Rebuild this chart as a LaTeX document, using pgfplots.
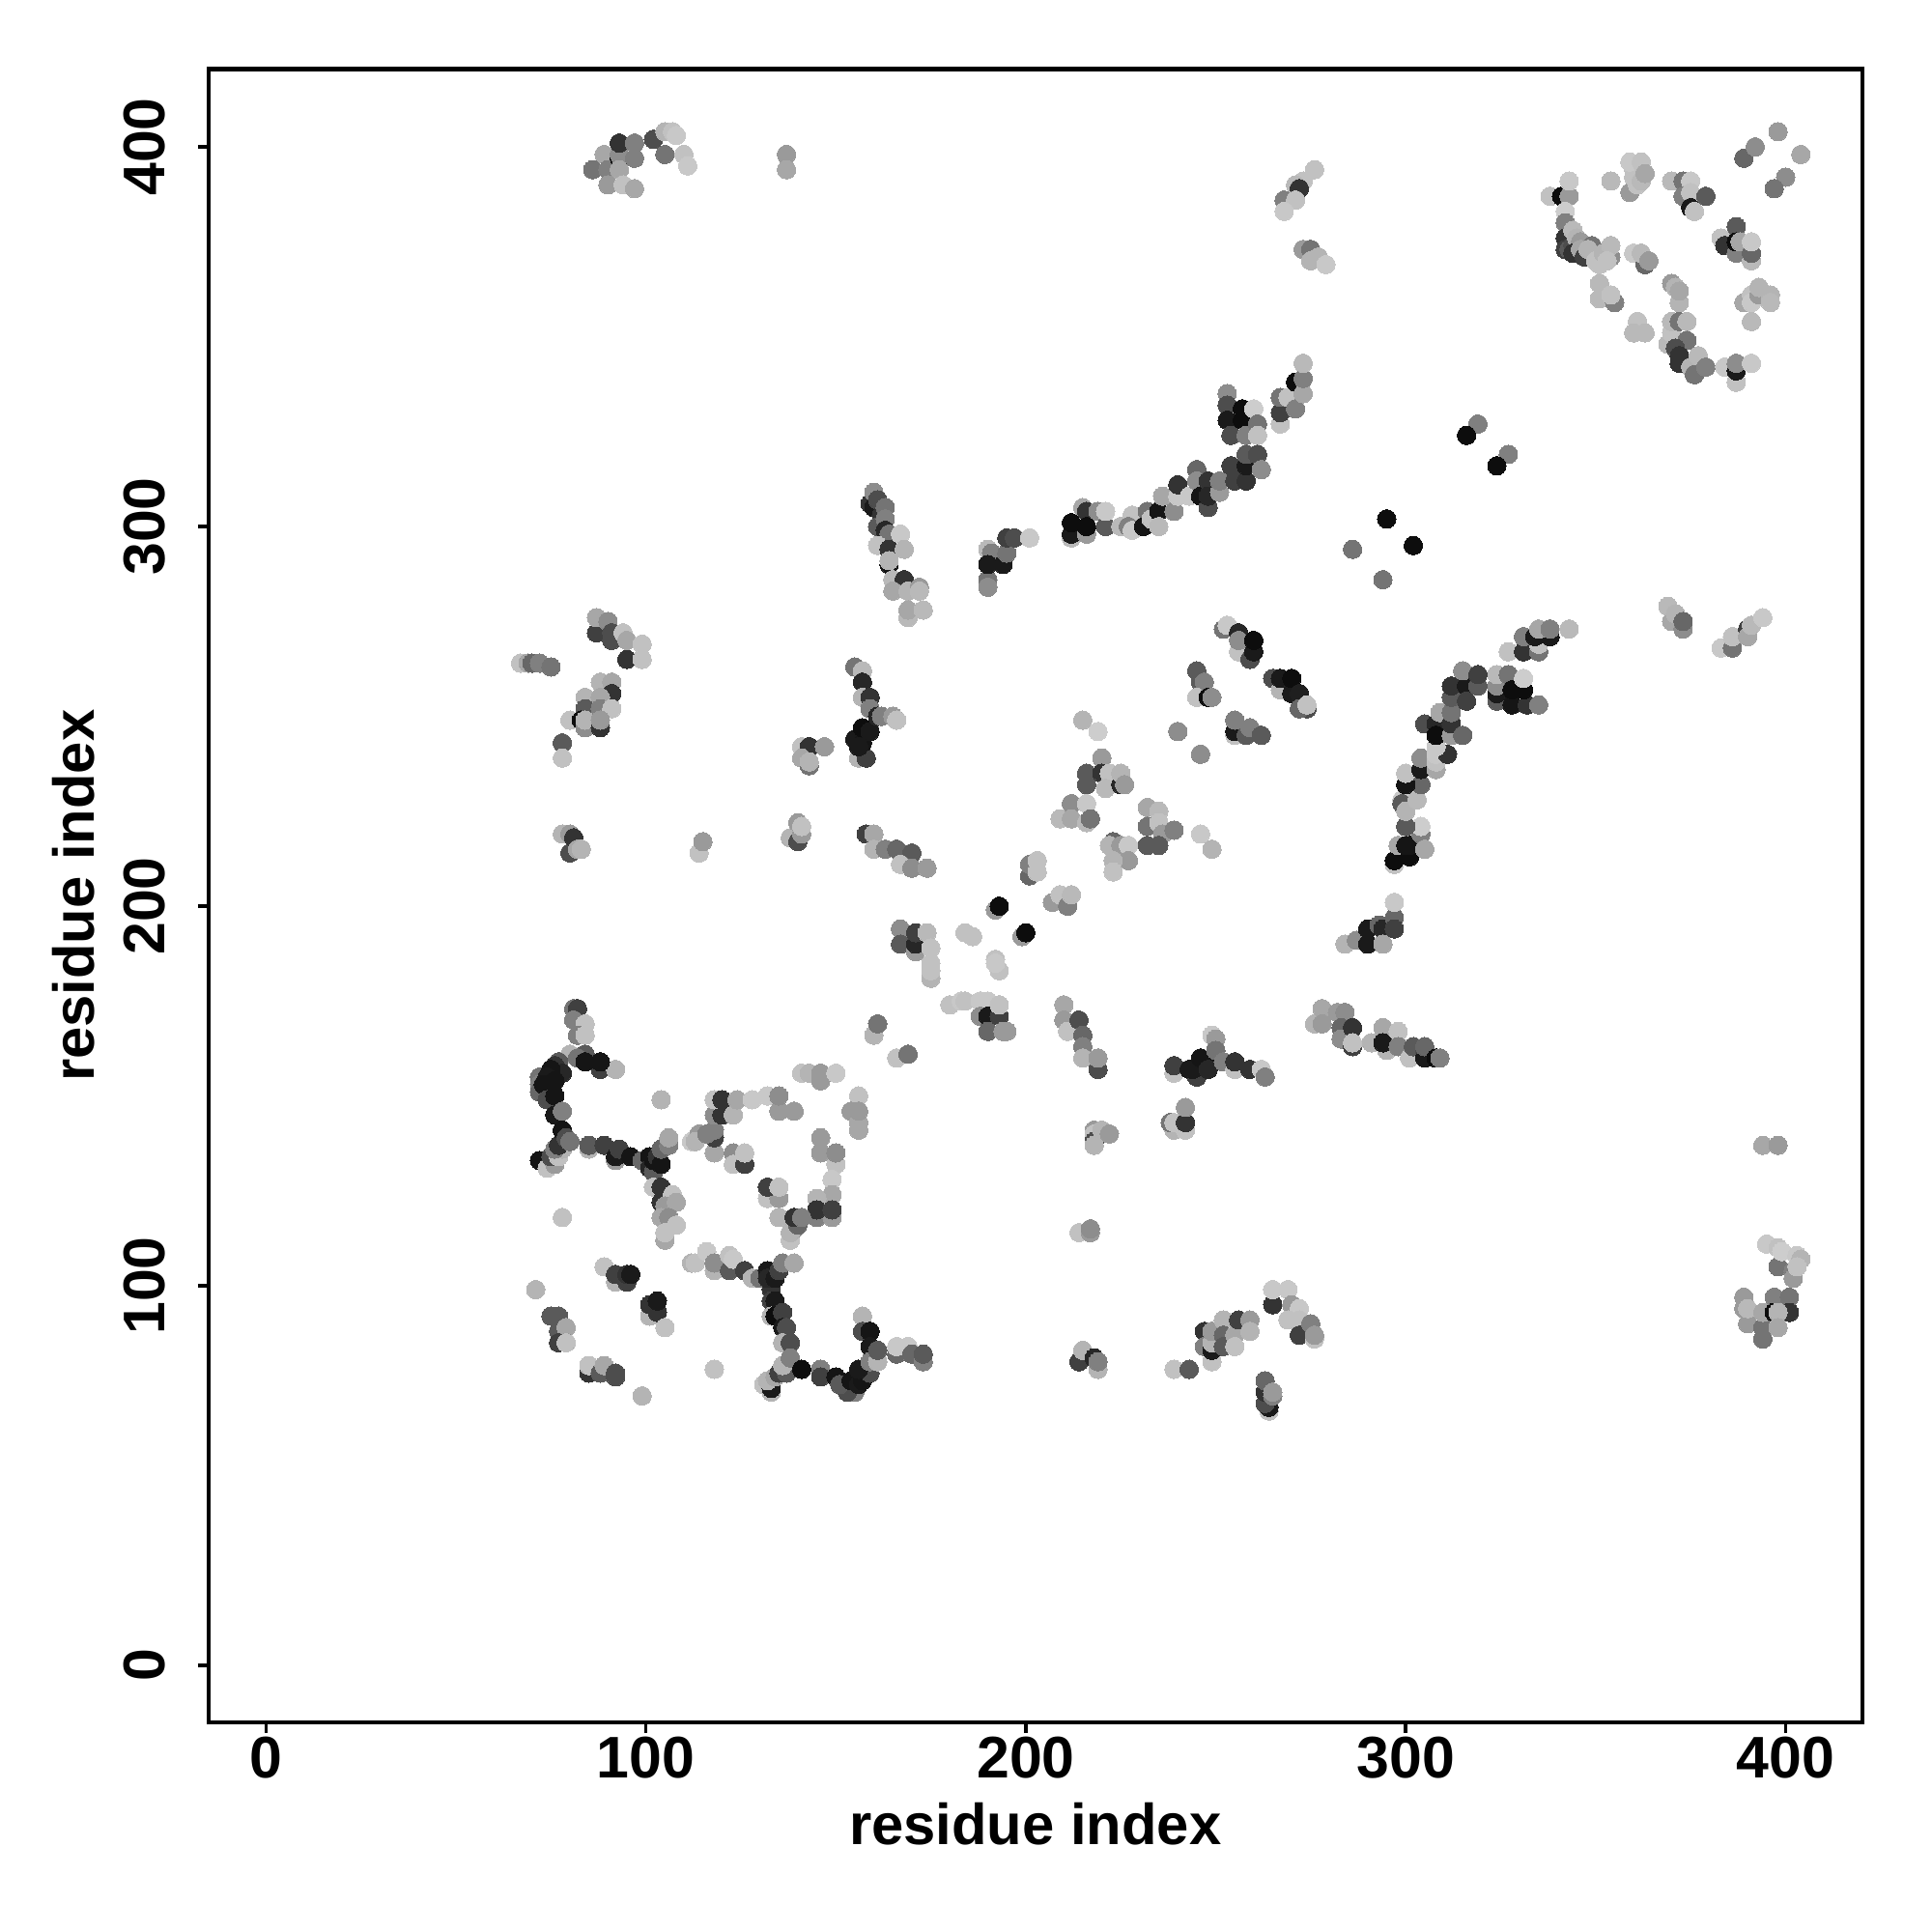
\documentclass[border=0pt]{standalone}
\usepackage{pgfplots}
\pgfplotsset{compat=1.18}
\usepackage{fontspec}
\setmainfont{Liberation Sans}
\begin{document}
\begin{tikzpicture}
\useasboundingbox (-2.16,-2.17) rectangle (17.84,17.83);
\begin{axis}[
    at={(0,0)}, anchor=south west,
    scale only axis,
    width=17.115cm, height=17.115cm,
    xmin=-15.1, xmax=420.1,
    ymin=-15, ymax=420.5,
    axis line style={line width=1.15pt},
    tick style={line width=1pt, black},
    major tick length=0.11cm,
    tick align=outside,
    xtick pos=bottom, ytick pos=left,
    xtick={0,100,200,300,400}, xticklabels={0,100,200,300,400},
    ytick={0,100,200,300,400}, yticklabels={0,100,200,300,400},
    tick label style={font=\bfseries\fontsize{17.3}{20}\selectfont},
    xticklabel style={anchor=base},
    xticklabel shift=0.46cm,
    yticklabel style={rotate=90, anchor=base},
    yticklabel shift=0.34cm,
    label style={font=\bfseries\fontsize{17}{20}\selectfont},
    xlabel={residue index},
    ylabel={residue index},
    xlabel style={at={(axis description cs:0.5,-0.074)}, anchor=base},
    ylabel style={at={(axis description cs:-0.069,0.5)}, anchor=base},
    colormap/blackwhite,
    point meta min=0, point meta max=1,
]
\addplot[scatter, only marks, mark=*, mark size=2.72pt,
    point meta=explicit,
    mark options={line width=0pt},
    scatter/use mapped color={draw=mapped color, fill=mapped color}]
coordinates {
% lower left, top arc
(81,173)[.45] (82,173)[.25] (81,170)[.5] (84,169)[.75] (82,166)[.5] (84,166)[.75]
(80,161)[.7] (84,161)[.35] (82,160)[.45] (88,157)[.25] (92,157)[.7] (84,159)[.08] (88,159)[.08]
(72,155)[.45] (72,153)[.5] (72,151)[.4] (77,159)[.35] (76,158)[.2] (78,156)[.15] (75,157)[.08]
(74,155)[.1] (76,154)[.08] (73,153)[.08] (75,152)[.08] (74,149)[.3] (76,150)[.08] (76,145)[.1] (78,146)[.5]
% lower branch
(73,133)[.7] (72,133)[.08] (74,131)[.75] (76,132)[.6] (75,134)[.3] (77,134)[.75] (78,136)[.7] (76,136)[.5]
(77,137)[.2] (78,141)[.08] (79,139)[.3] (80,138)[.45]
(85,136)[.7] (85,137)[.35] (89,137)[.25] (92,133)[.6] (92,134)[.1] (93,136)[.25] (96,134)[.08] (99,133)[.4]
(101,134)[.08] (101,131)[.15] (102,130)[.35] (102,133)[.08] (103,134)[.2] (104,132)[.08] (104,136)[.4] (106,137)[.5] (106,139)[.65]
(102,126)[.75] (104,126)[.2] (104,122)[.2] (107,124)[.75] (105,121)[.6] (108,122)[.65]
(104,118)[.65] (106,118)[.55] (105,112)[.65] (105,114)[.75] (108,116)[.75]
% middle loop
(112,138)[.78] (114,140)[.6] (113,138)[.7] (118,135)[.65] (118,139)[.25] (116,140)[.5] (118,141)[.5]
(118,145)[.55] (120,145)[.2] (118,149)[.75] (120,149)[.2] (123,145)[.7] (124,149)[.65] (128,149)[.78] (132,150)[.78]
(135,146)[.6] (139,146)[.6] (135,150)[.55] (123,135)[.55] (123,132)[.75] (126,132)[.25] (126,135)[.75]
(141,156)[.75] (143,156)[.7] (146,154)[.6] (146,156)[.6] (150,156)[.78]
(156,150)[.75] (154,146)[.6] (156,141)[.65] (156,143)[.65] (156,146)[.6]
(146,139)[.6] (146,135)[.6] (150,132)[.75] (150,135)[.55] (149,128)[.78] (149,124)[.65] (145,123)[.7]
(145,118)[.5] (149,118)[.6] (145,120)[.2] (149,120)[.25]
(132,123)[.75] (135,123)[.6] (132,126)[.25] (135,126)[.75] (135,118)[.7] (138,112)[.75] (139,115)[.55] (138,114)[.7]
(140,116)[.4] (139,118)[.2] (141,118)[.5]
(160,166)[.7] (161,169)[.45] (166,160)[.75] (169,161)[.45]
% lower row and stem
(112,106)[.7] (113,106)[.75] (116,109)[.78] (118,104)[.7] (118,106)[.55] (122,104)[.35] (122,108)[.75] (123,107)[.78]
(126,104)[.25] (128,102)[.7] (130,102)[.45] (133,99)[.2] (132,104)[.1] (132,102)[.15] (134,102)[.1] (135,104)[.25] (136,106)[.5] (139,106)[.65]
(133,96)[.25] (134,96)[.1] (133,92)[.7] (134,92)[.05] (136,93)[.25] (136,89)[.1] (137,89)[.3] (136,85)[.7] (138,85)[.3]
(131,74)[.75] (133,72)[.7] (133,73)[.1] (133,74)[.1] (132,75)[.7] (134,76)[.65] (135,77)[.25] (137,77)[.35] (136,79)[.7] (138,81)[.5] (141,78)[.05]
(146,78)[.5] (146,76)[.25] (150,76)[.08] (155,72)[.5] (153,72)[.3] (151,74)[.35] (154,75)[.08] (156,74)[.1] (157,75)[.08] (159,77)[.3] (156,78)[.1]
(157,92)[.7] (157,88)[.3] (159,88)[.08] (159,84)[.1] (159,80)[.5] (161,80)[.7] (161,83)[.35]
(166,82)[.4] (166,84)[.78] (169,84)[.78] (170,82)[.4] (173,80)[.5] (173,82)[.35]
(118,78)[.75]
% small groups lower left
(71,99)[.7] (75,92)[.35] (77,92)[.35] (77,88)[.35] (79,89)[.65] (77,85)[.25] (79,85)[.05] (79,85)[.75]
(85,79)[.05] (85,77)[.2] (85,79)[.75] (88,77)[.35] (89,79)[.65] (92,76)[.3] (92,77)[.3] (99,71)[.7]
(89,105)[.75] (92,101)[.7] (92,103)[.25] (95,101)[.25] (95,103)[.2] (96,103)[.1]
(101,92)[.7] (101,95)[.2] (103,93)[.2] (103,96)[.1] (105,89)[.75] (104,149)[.7] (78,118)[.75]
% lower centre
(167,194)[.55] (167,190)[.35] (171,188)[.6] (171,190)[.15] (171,193)[.25] (174,193)[.72] (175,189)[.75] (175,185)[.75]
(184,193)[.75] (186,192)[.75] (193,183)[.75] (192,186)[.75] (192,185)[.78]
(180,174)[.75] (183,175)[.78] (184,175)[.75] (188,175)[.78] (190,175)[.78]
(188,171)[.55] (190,171)[.1] (190,167)[.4] (193,171)[.25] (194,167)[.6] (195,167)[.6] (193,174)[.75]
(175,181)[.7] (175,183)[.75]
(210,174)[.65] (210,170)[.6] (211,167)[.75] (214,170)[.3] (215,166)[.4] (215,163)[.5] (215,160)[.7] (219,157)[.3] (219,160)[.6]
(239,156)[.75] (239,158)[.25] (243,157)[.1] (245,155)[.25] (244,157)[.1] (246,160)[.08] (248,159)[.08] (248,157)[.15]
(249,166)[.78] (250,165)[.6] (250,162)[.45] (252,159)[.5] (255,157)[.75] (255,159)[.2] (259,157)[.2] (262,157)[.78] (263,155)[.5]
% lower right row
(276,169)[.7] (278,173)[.65] (278,169)[.6] (282,172)[.6] (284,172)[.55] (283,168)[.4] (283,165)[.55] (286,168)[.2] (286,163)[.25] (286,164)[.75]
(291,164)[.1] (291,164)[.7] (294,168)[.65] (295,162)[.7] (294,164)[.1] (298,167)[.75] (298,163)[.5] (301,160)[.75] (302,163)[.35]
(305,162)[.3] (305,160)[.1] (305,163)[.4] (308,160)[.05] (309,160)[.5]
(218,141)[.6] (218,140)[.75] (218,138)[.25] (218,138)[.3] (218,137)[.7] (220,141)[.7] (222,140)[.6]
(239,141)[.7] (238,143)[.45] (239,143)[.75] (242,141)[.75] (242,143)[.2] (242,147)[.6]
(214,114)[.75] (217,114)[.6] (217,115)[.55]
(214,80)[.25] (215,83)[.7] (218,81)[.15] (219,78)[.7] (219,80)[.5]
(239,78)[.75] (243,78)[.35]
(247,88)[.2] (247,84)[.5] (249,80)[.75] (249,83)[.1] (249,85)[.7] (249,88)[.6] (252,91)[.7] (252,87)[.4] (252,84)[.35]
(255,87)[.65] (255,84)[.75] (256,91)[.25] (259,91)[.6] (259,88)[.7]
(265,95)[.2] (265,99)[.78] (269,99)[.78] (270,95)[.6] (269,91)[.2] (272,94)[.78] (269,91)[.75] (272,91)[.75] (272,87)[.25] (275,90)[.5] (276,86)[.75] (276,87)[.6]
(264,67)[.75] (264,68)[.1] (263,69)[.3] (263,72)[.2] (263,75)[.4] (265,71)[.5] (265,72)[.6]
% right edge
(394,137)[.65] (398,137)[.6]
(395,111)[.78] (398,110)[.75] (398,105)[.45] (402,104)[.5] (402,102)[.15] (402,102)[.6] (399,109)[.8] (403,108)[.78] (404,107)[.7] (403,105)[.75]
(389,97)[.6] (389,94)[.6] (390,90)[.6] (390,94)[.72] (394,86)[.45] (394,89)[.45] (394,93)[.65]
(397,97)[.5] (397,93)[.05] (401,97)[.45] (401,93)[.2] (398,93)[.7] (398,89)[.65]
% left, upper half
(67,264)[.75] (69,264)[.05] (69,264)[.65] (70,264)[.4] (72,264)[.5] (75,263)[.45]
(87,272)[.25] (87,276)[.75] (87,276)[.65] (90,275)[.55] (91,272)[.3] (91,270)[.3] (94,272)[.75] (95,270)[.65] (95,265)[.2] (99,265)[.75] (99,269)[.75]
(88,259)[.7] (91,259)[.65] (91,256)[.2] (84,255)[.7] (88,255)[.65] (84,252)[.35] (88,252)[.5] (91,252)[.75]
(80,249)[.75] (83,249)[.05] (84,247)[.55] (84,249)[.7] (88,247)[.2] (88,249)[.6] (78,243)[.35] (78,239)[.75]
(78,219)[.7] (80,219)[.6] (80,214)[.3] (81,218)[.2] (82,215)[.65] (83,215)[.7]
(114,214)[.75] (115,217)[.6]
(138,218)[.35] (138,218)[.7] (140,222)[.6] (140,217)[.3] (141,219)[.6] (141,221)[.75]
(158,219)[.25] (160,219)[.65] (160,215)[.7] (163,215)[.5] (166,215)[.4] (170,214)[.35] (167,211)[.75] (170,210)[.55] (174,210)[.6]
(155,263)[.45] (157,262)[.72] (157,259)[.15] (157,255)[.7] (159,255)[.2] (159,252)[.5]
(156,239)[.7] (158,239)[.25] (155,244)[.1] (157,243)[.08] (156,242)[.1] (157,247)[.05] (159,246)[.1] (161,250)[.15] (162,250)[.5] (165,250)[.6] (166,249)[.75]
(141,242)[.75] (143,242)[.2] (147,242)[.6] (141,239)[.65] (143,237)[.45] (143,238)[.7]
% 160 to 175 strand
(159,306)[.2] (160,305)[.1] (160,309)[.55] (161,307)[.3] (162,303)[.2] (161,300)[.35] (163,305)[.45] (163,302)[.5] (163,299)[.15] (164,298)[.45] (161,295)[.75] (164,294)[.2] (167,298)[.78] (168,294)[.7]
(164,290)[.08] (164,291)[.7] (165,286)[.35] (165,286)[.72] (168,286)[.2] (165,283)[.65] (169,283)[.7] (172,284)[.6] (172,283)[.72]
(169,276)[.72] (169,278)[.65] (173,278)[.72]
% diagonal
(192,199)[.6] (193,200)[.05] (199,192)[.6] (200,193)[.05]
(201,208)[.4] (201,211)[.5] (203,212)[.75] (203,209)[.75]
(207,201)[.6] (209,203)[.75] (211,200)[.5] (212,203)[.72]
(215,249)[.7] (219,246)[.8]
(220,239)[.25] (220,239)[.6] (216,235)[.35] (216,232)[.35] (220,235)[.2] (222,235)[.75] (221,231)[.72] (225,232)[.15] (225,235)[.7] (226,232)[.6]
(212,227)[.55] (216,227)[.78] (209,223)[.72] (212,223)[.65] (216,222)[.72] (217,223)[.45]
(232,226)[.65] (235,225)[.72] (232,221)[.45] (235,222)[.75] (239,220)[.1] (236,219)[.6] (239,220)[.5] (232,216)[.35] (235,216)[.35]
(223,217)[.4] (222,216)[.7] (225,216)[.6] (227,216)[.78] (227,212)[.6] (223,212)[.7] (223,209)[.75]
(246,219)[.78] (249,215)[.7]
(240,246)[.25] (240,246)[.55] (246,240)[.25] (246,240)[.55]
(255,245)[.75] (255,246)[.1] (255,249)[.5] (258,245)[.35] (259,247)[.5] (262,245)[.35]
(245,262)[.35] (246,259)[.35] (247,259)[.5] (245,255)[.75] (248,255)[.05] (249,255)[.55]
(252,273)[.45] (253,274)[.78] (256,272)[.15] (256,267)[.75] (256,270)[.55] (259,265)[.3] (260,267)[.1] (260,270)[.05]
(265,260)[.3] (267,257)[.7] (267,260)[.1] (270,256)[.1] (270,260)[.05] (272,256)[.12] (274,252)[.3] (272,252)[.4] (274,253)[.75]
% right arc
(284,190)[.7] (287,191)[.55] (290,194)[.1] (290,190)[.1] (293,195)[.4] (294,194)[.15] (294,190)[.65] (297,197)[.4] (297,194)[.25] (297,201)[.78]
(297,211)[.75] (297,212)[.3] (297,212)[.05] (298,216)[.65] (301,213)[.05] (300,216)[.08] (301,216)[.08] (304,219)[.5] (304,221)[.8] (305,215)[.65] (300,221)[.35]
(299,228)[.78] (299,227)[.35] (300,225)[.7] (303,228)[.72] (304,232)[.4] (300,232)[.08] (300,235)[.75] (304,236)[.1] (304,239)[.55]
(308,236)[.65] (308,238)[.75] (308,240)[.78] (311,240)[.2] (308,242)[.78] (305,248)[.3] (308,248)[.15] (308,245)[.05] (309,251)[.65]
(312,245)[.6] (312,248)[.2] (312,251)[.45] (315,245)[.4]
(312,255)[.35] (312,258)[.2] (316,258)[.1] (316,254)[.25] (315,262)[.55] (319,258)[.35] (319,261)[.25]
(324,254)[.35] (324,256)[.1] (324,258)[.55] (324,261)[.72] (327,261)[.45] (328,253)[.08] (328,257)[.05] (332,253)[.2] (331,257)[.05] (331,260)[.8] (335,253)[.5]
(327,267)[.75] (331,267)[.2] (331,271)[.5] (335,267)[.45] (335,269)[.75] (334,271)[.1] (338,271)[.1] (335,273)[.65] (338,273)[.5] (343,273)[.72]
(370,275)[.65] (369,279)[.72] (371,277)[.7] (373,273)[.55] (373,275)[.4]
(383,268)[.78] (386,268)[.45] (386,271)[.75] (390,273)[.25] (390,271)[.65] (391,274)[.72] (394,276)[.78]
% upper middle
(190,286)[.45] (190,284)[.72] (190,284)[.55] (190,294)[.72] (191,293)[.5] (190,290)[.1] (194,290)[.1] (195,293)[.45] (195,297)[.25] (197,297)[.3] (201,297)[.78]
(212,297)[.72] (212,298)[.1] (212,301)[.05] (215,305)[.65] (216,304)[.2] (216,298)[.6] (216,300)[.05] (219,304)[.55] (221,300)[.35] (221,304)[.78]
(225,300)[.72] (228,303)[.75] (227,300)[.5] (228,299)[.78] (232,304)[.45] (231,300)[.08] (233,302)[.75] (235,304)[.08] (235,300)[.72] (239,304)[.55]
(236,308)[.65] (240,308)[.78] (240,311)[.2] (243,308)[.78]
(245,315)[.4] (245,312)[.55] (246,308)[.08] (248,305)[.3] (248,312)[.2] (248,308)[.15] (251,309)[.6] (251,312)[.5]
(253,335)[.55] (253,332)[.3] (253,328)[.1] (254,324)[.3] (257,331)[.05] (257,328)[.05] (258,324)[.5] (260,331)[.8] (261,327)[.45] (261,324)[.75]
(254,316)[.25] (255,312)[.25] (258,312)[.2] (258,316)[.1] (258,319)[.35] (261,319)[.3] (262,315)[.55]
(267,327)[.75] (267,330)[.25] (267,334)[.45] (269,334)[.75] (271,331)[.5] (271,338)[.05] (273,335)[.65] (273,339)[.5] (273,343)[.72]
(295,302)[.7] (295,302)[.05] (302,295)[.75] (302,295)[.05] (286,294)[.45] (294,286)[.45]
(319,327)[.5] (316,324)[.05] (327,319)[.5] (324,316)[.05]
% upper right
(276,394)[.75] (273,391)[.75] (271,390)[.72] (272,389)[.2] (268,386)[.5] (271,386)[.75] (268,383)[.78]
(273,373)[.6] (275,373)[.45] (275,370)[.7] (277,371)[.7] (279,369)[.78]
(338,387)[.75] (341,387)[.05] (343,387)[.6] (343,391)[.78] (342,383)[.8]
(342,380)[.5] (342,376)[.2] (344,378)[.72] (342,373)[.25] (343,373)[.35] (344,374)[.3] (345,376)[.7] (346,375)[.6] (344,372)[.2] (346,373)[.65] (349,374)[.45] (347,371)[.25] (348,373)[.7] (350,370)[.75] (351,369)[.75]
(352,372)[.7] (354,371)[.55] (354,374)[.72] (353,370)[.75] (360,372)[.78] (363,369)[.4] (362,372)[.72] (364,370)[.6]
(351,364)[.72] (351,360)[.72] (355,359)[.5] (354,361)[.75]
(361,354)[.5] (361,354)[.75] (360,351)[.72] (363,351)[.72]
(354,391)[.72] (359,388)[.6] (361,390)[.75] (360,392)[.75] (360,394)[.75] (359,396)[.78] (362,396)[.75] (362,391)[.72] (363,393)[.65]
(370,391)[.72] (373,391)[.45] (375,391)[.78] (373,387)[.5] (375,388)[.75] (375,384)[.1] (376,383)[.75] (379,387)[.35]
(370,364)[.6] (371,363)[.7] (372,359)[.7] (372,362)[.65]
(387,379)[.35] (383,376)[.75] (384,374)[.2] (387,372)[.5] (387,375)[.05] (388,375)[.65] (391,370)[.72] (391,372)[.4] (391,375)[.78]
(389,397)[.4] (392,400)[.55] (398,404)[.6] (404,398)[.65] (400,392)[.55] (397,389)[.45]
(389,359)[.65] (391,361)[.75] (391,359)[.78] (393,361)[.6] (393,363)[.7] (396,361)[.7] (396,359)[.72] (391,354)[.72]
(369,348)[.72] (370,351)[.75] (370,354)[.72] (372,354)[.45] (374,354)[.72] (374,349)[.45] (371,347)[.3] (372,345)[.2] (372,343)[.2]
(375,342)[.7] (377,345)[.72] (376,340)[.45] (379,342)[.5] (384,342)[.78] (387,338)[.75] (387,341)[.1] (387,343)[.55] (391,343)[.78]
% top left
(86,394)[.45] (89,398)[.65] (90,394)[.5] (90,390)[.6] (93,397)[.05] (93,398)[.55] (93,394)[.65] (93,401)[.2] (94,390)[.75]
(97,397)[.5] (97,401)[.5] (97,389)[.65]
(102,402)[.75] (102,402)[.3] (105,398)[.45] (105,404)[.7] (107,404)[.75] (108,403)[.78] (110,398)[.75] (111,395)[.78]
(137,398)[.6] (137,394)[.65]
};
\end{axis}
\end{tikzpicture}
\end{document}
